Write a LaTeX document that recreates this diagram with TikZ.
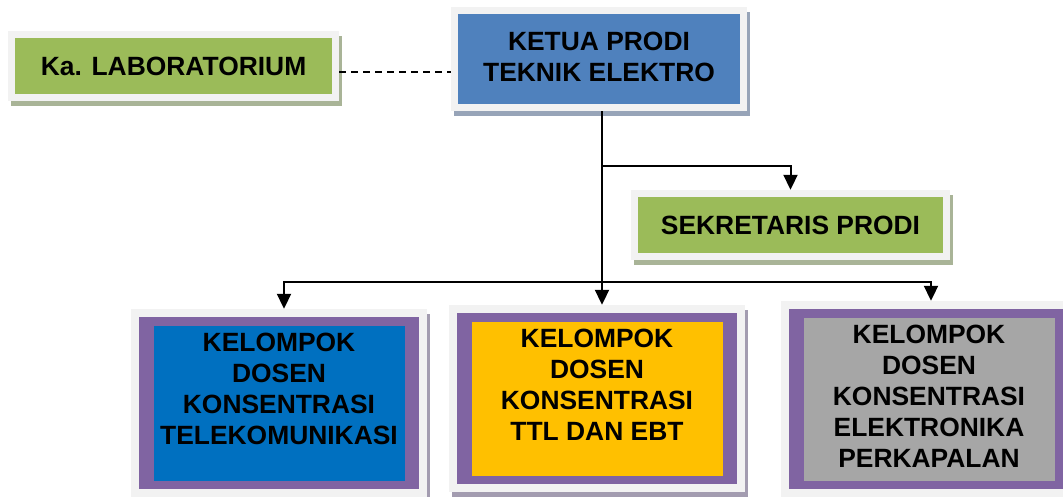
\documentclass[tikz,border=0pt]{standalone}
\usepackage{fontspec}
\setmainfont{Liberation Sans}
\usetikzlibrary{arrows.meta,positioning}

\definecolor{framegray}{HTML}{F2F2F2}
\definecolor{hijau}{HTML}{9BBB59}
\definecolor{biru}{HTML}{4F81BD}
\definecolor{ungu}{HTML}{8064A2}
\definecolor{birutua}{HTML}{0070C0}
\definecolor{kuning}{HTML}{FFC000}
\definecolor{abu}{HTML}{A6A6A6}
\definecolor{bayanghijau}{HTML}{A9B497}
\definecolor{bayangbiru}{HTML}{97A4B8}
\definecolor{bayangungu}{HTML}{A39CB0}

\tikzset{
  box/.style={rectangle, fill=framegray, inner sep=0pt, align=center,
    font=\fontsize{26.4}{31}\selectfont\bfseries},
  jabatan/.style 2 args={box,
    preaction={fill=#2, transform canvas={xshift=3pt,yshift=-5pt}},
    path picture={
      \fill[#1] ([shift={(7pt,-7pt)}]path picture bounding box.north west)
        rectangle ([shift={(-7pt,7pt)}]path picture bounding box.south east);}},
  kelompok/.style={box, minimum width=296pt,
    preaction={fill=bayangungu, transform canvas={xshift=3pt,yshift=-5pt}},
    path picture={
      \fill[ungu] ([shift={(8pt,-8pt)}]path picture bounding box.north west)
        rectangle ([shift={(-8pt,8pt)}]path picture bounding box.south east);
      \fill[#1] ([shift={(23pt,-17pt)}]path picture bounding box.north west)
        rectangle ([shift={(-22pt,16pt)}]path picture bounding box.south east);}},
  garis/.style={line width=2pt, -{Triangle[length=15pt,width=14pt]}}
}

\begin{document}
\begin{tikzpicture}[x=1pt,y=-1pt]
  \useasboundingbox (0,0) rectangle (1063,497);

  % pimpinan
  \node[jabatan={biru}{bayangbiru}, minimum width=296pt, minimum height=104pt]
    (ketua) at (599,59) {KETUA PRODI\\TEKNIK ELEKTRO\\[-27pt]};
  \node[jabatan={hijau}{bayanghijau}, minimum width=331pt, minimum height=70pt]
    (lab) at (173.5,66) {Ka. LABORATORIUM};
  \node[jabatan={hijau}{bayanghijau}, minimum width=319pt, minimum height=70pt]
    (sekr) at (790.5,225) {SEKRETARIS PRODI};

  % kelompok dosen
  \node[kelompok=birutua, minimum height=188pt] (tele) at (279,403)
    {KELOMPOK\\DOSEN\\KONSENTRASI\\TELEKOMUNIKASI\\[-2pt]};
  \node[kelompok=kuning, minimum height=187pt] (ttl) at (597,398.5)
    {KELOMPOK\\DOSEN\\KONSENTRASI\\TTL DAN EBT\\[-4pt]};
  \node[kelompok=abu, minimum height=196pt] (elek) at (929,399)
    {KELOMPOK\\DOSEN\\KONSENTRASI\\ELEKTRONIKA\\PERKAPALAN\\[-25pt]};

  \coordinate (cabang) at (602,166);
  \coordinate (bagi) at (602,282);

  \draw[line width=1.3pt, dash pattern=on 7pt off 5pt]
    ([yshift=-6pt]lab.east) -- ([yshift=-6pt]lab.east -| ketua.west);
  \draw[line width=2pt] (ketua.south -| cabang) -- (bagi);
  \draw[garis] (cabang) -| (sekr.north);
  \draw[garis] (bagi) -- (bagi |- ttl.north);
  \draw[garis] (bagi) -| ([xshift=5pt]tele.north);
  \draw[garis] (bagi) -| ([xshift=2pt]elek.north);
\end{tikzpicture}
\end{document}
